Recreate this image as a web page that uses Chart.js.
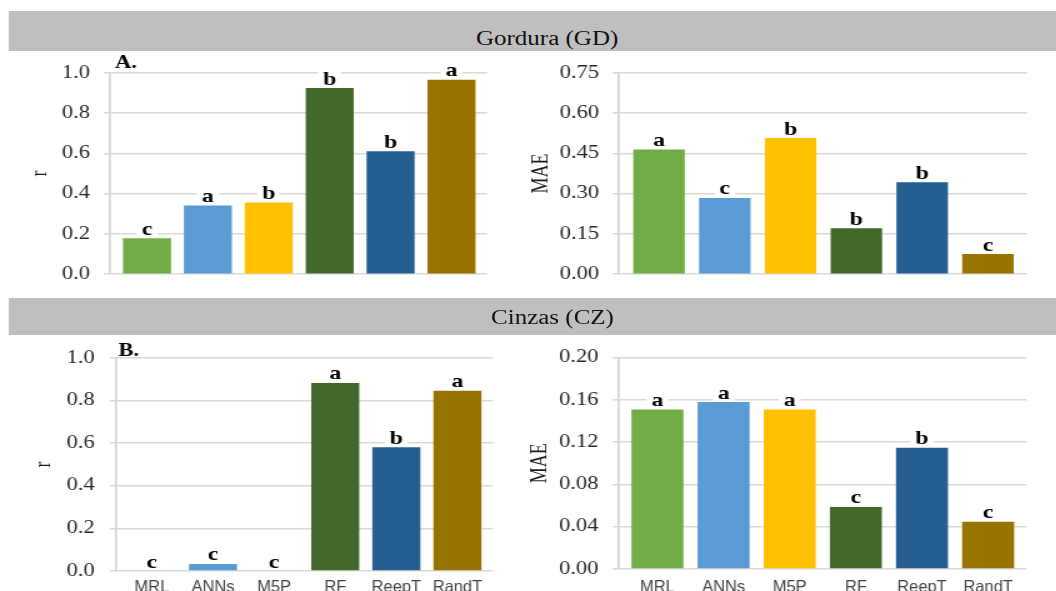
<!DOCTYPE html>
<html><head><meta charset="utf-8">
<script src="https://cdn.jsdelivr.net/npm/chart.js@4.4.1/dist/chart.umd.min.js"></script>
<style>
html,body{margin:0;padding:0;background:#fff;overflow:hidden;width:1056px;height:591px;}
#wrap{position:absolute;left:0;top:0;width:844.8px;height:591px;transform:scaleX(1.25);transform-origin:0 0;}
.hdr{position:absolute;left:7.2px;width:837.6px;background:#bfbfbf;}
.ttl{position:absolute;font-family:'Liberation Serif';font-size:20px;line-height:20px;color:#111;white-space:nowrap;transform:translateX(-50%);}
canvas{position:absolute;}
</style></head><body>
<div id="wrap">
<div class="hdr" style="top:11px;height:40px"></div>
<div class="hdr" style="top:298px;height:37px"></div>
<div class="ttl" style="left:437.7px;top:28.3px">Gordura (GD)</div>
<div class="ttl" style="left:442px;top:306.6px">Cinzas (CZ)</div>
<canvas id="c1" width="416" height="245" style="left:0;top:51px"></canvas>
<canvas id="c2" width="429" height="245" style="left:416px;top:51px"></canvas>
<canvas id="c3" width="416" height="266" style="left:0;top:335px"></canvas>
<canvas id="c4" width="429" height="264" style="left:416px;top:335px"></canvas>
</div>
<script>
// ---- data ----
const categories = ['MRL', 'ANNs', 'M5P', 'RF', 'ReepT', 'RandT'];
const gdR = [0.178, 0.341, 0.356, 0.924, 0.611, 0.965];
const gdMAE = [0.464, 0.284, 0.507, 0.171, 0.342, 0.075];
const czR = [0, 0.033, 0, 0.882, 0.581, 0.846];
const czMAE = [0.151, 0.158, 0.151, 0.0587, 0.1148, 0.0448];
const gdRLetters = ['c', 'a', 'b', 'b', 'b', 'a'];
const gdMAELetters = ['a', 'c', 'b', 'b', 'b', 'c'];
const czRLetters = ['c', 'c', 'c', 'a', 'b', 'a'];
const czMAELetters = ['a', 'a', 'a', 'c', 'b', 'c'];
const rTicks = [0, 0.2, 0.4, 0.6, 0.8, 1.0];
const maeGdTicks = [0, 0.15, 0.30, 0.45, 0.60, 0.75];
const maeCzTicks = [0, 0.04, 0.08, 0.12, 0.16, 0.20];
const barColors = ['#70AD47', '#5B9BD5', '#FFC000', '#43682B', '#255E91', '#997300'];

const SERIF = 'Liberation Serif';
const SANS = 'Liberation Sans';

function letterPlugin(letters, tag, catOffset) {
  return {
    id: 'letters',
    afterDatasetsDraw(chart) {
      const ctx = chart.ctx;
      const meta = chart.getDatasetMeta(0);
      ctx.save();
      ctx.font = 'bold 19px "' + SERIF + '"';
      ctx.textAlign = 'center';
      ctx.textBaseline = 'alphabetic';
      meta.data.forEach((el, i) => {
        const t = letters[i];
        const w = ctx.measureText(t).width;
        const base = el.y - 3.5;
        const top = base - 15;
        const bot = Math.min(base + 4, el.y - 1);
        ctx.fillStyle = '#fff';
        ctx.fillRect(el.x - w / 2 - 4, top, w + 8, bot - top);
        ctx.fillStyle = '#000';
        ctx.fillText(t, el.x, base);
      });
      if (tag) {
        ctx.font = 'bold 18px "' + SERIF + '"';
        ctx.textAlign = 'left';
        ctx.fillStyle = '#000';
        ctx.fillText(tag.text, tag.x, tag.y);
      }
      if (catOffset) {
        // category labels (un-stretched horizontally, like the reference)
        const xs = chart.scales.x;
        const base = chart.chartArea.bottom + catOffset;
        ctx.font = '16.5px "' + SANS + '"';
        ctx.textAlign = 'center';
        ctx.fillStyle = '#404040';
        categories.forEach((c, i) => {
          ctx.save();
          ctx.translate(xs.getPixelForValue(i), base);
          ctx.scale(0.8, 1);
          ctx.fillText(c, 0, 0);
          ctx.restore();
        });
      }
      ctx.restore();
    }
  };
}

function yScale(ticks, width, title, titlePad, labelPad, digits) {
  return {
    type: 'linear', position: 'left',
    min: ticks[0], max: ticks[ticks.length - 1],
    afterBuildTicks: s => { s.ticks = ticks.map(v => ({ value: v })); },
    afterFit: s => { s.width = width; },
    ticks: {
      font: { family: SERIF, size: 18 }, color: '#262626', padding: labelPad,
      callback: v => Number(v).toFixed(digits)
    },
    grid: { color: '#d9d9d9', lineWidth: 1.5, tickLength: 5, drawTicks: true },
    border: { display: true, color: '#d2d2d2', width: 1.6 },
    title: { display: true, text: title, font: { family: SERIF, size: 18 }, color: '#1a1a1a', padding: { top: titlePad, bottom: 0 } }
  };
}

function xScale(min, max, show) {
  return {
    type: 'linear', min: min, max: max, display: show, offset: false,
    afterBuildTicks: s => { s.ticks = categories.map((_, i) => ({ value: i })); },
    afterFit: s => { if (show) s.height = 30; },
    grid: { display: false, offset: false }, border: { display: false },
    ticks: { display: false }
  };
}

function makeChart(id, values, letters, tag, yS, xS, thickness, padding, catOffset) {
  return new Chart(document.getElementById(id), {
    type: 'bar',
    data: {
      datasets: [{
        data: categories.map((c, i) => ({ x: i, y: values[i] })),
        backgroundColor: barColors,
        borderWidth: 0,
        inflateAmount: 0,
        barThickness: thickness
      }]
    },
    options: {
      responsive: false, animation: false, devicePixelRatio: 1, events: [],
      layout: { padding: padding },
      plugins: { legend: { display: false }, tooltip: { enabled: false } },
      scales: { x: xS, y: yS }
    },
    plugins: [letterPlugin(letters, tag, catOffset)]
  });
}

makeChart('c1', gdR, gdRLetters, { text: 'A.', x: 92, y: 16.7 },
  yScale(rTicks, 88, 'r', 21, 11, 1), xScale(-0.6076, 5.583, false), 38.4,
  { left: 0, right: 26.4, top: 19, bottom: 16 }, 0);
makeChart('c2', gdMAE, gdMAELetters, null,
  yScale(maeGdTicks, 79.2, 'MAE', 6, 11, 2), xScale(-0.608, 5.593, false), 41.2,
  { left: 0, right: 23.4, top: 18.3, bottom: 16 }, 0);
makeChart('c3', czR, czRLetters, { text: 'B.', x: 94.7, y: 20.7 },
  yScale(rTicks, 92.8, 'r', 24.5, 12, 1), xScale(-0.588, 5.582, true), 38.4,
  { left: 0, right: 21.6, top: 22, bottom: 0 }, 21);
makeChart('c4', czMAE, czMAELetters, null,
  yScale(maeCzTicks, 79.2, 'MAE', 5.5, 11.5, 2), xScale(-0.5816, 5.582, true), 41.6,
  { left: 0, right: 23.7, top: 22.7, bottom: 0 }, 23);
</script>
</body></html>
